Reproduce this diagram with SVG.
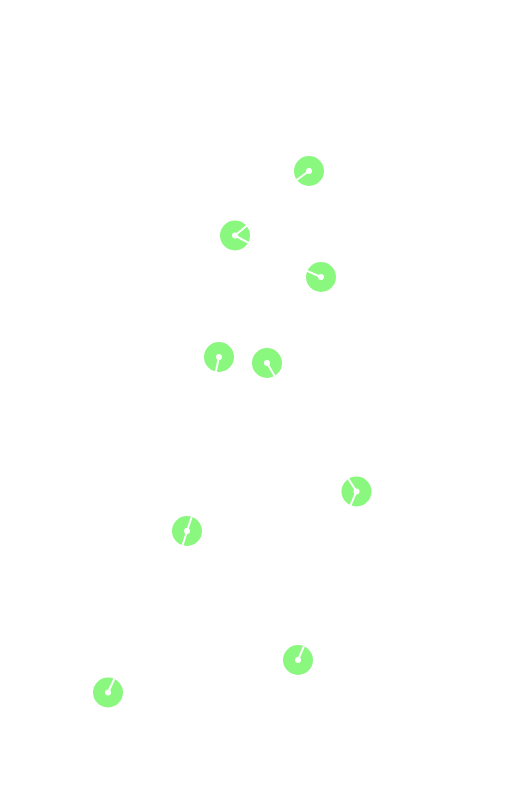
<svg xmlns="http://www.w3.org/2000/svg" width="510" height="792" viewBox="0 0 510 792">
<style>
.disc{fill:#8af77e}
.hub{fill:#ffffff}
.slit{stroke:#ffffff;stroke-width:2;stroke-linecap:butt}
</style>
<rect width="510" height="792" fill="#ffffff"/>
<g id="n1"><circle class="disc" cx="309" cy="171" r="15"/><line class="slit" x1="309" y1="171" x2="296" y2="180.5"/><circle class="hub" cx="309" cy="171" r="3"/></g>
<g id="n2"><circle class="disc" cx="235" cy="235.5" r="15"/><line class="slit" x1="235" y1="235.5" x2="247.3" y2="225.3"/><line class="slit" x1="235" y1="235.5" x2="249.1" y2="243.1"/><circle class="hub" cx="235" cy="235.5" r="3"/></g>
<g id="n3"><circle class="disc" cx="219" cy="357" r="15"/><line class="slit" x1="219" y1="357" x2="215.6" y2="372.6"/><circle class="hub" cx="219" cy="357" r="3"/></g>
<g id="n4"><circle class="disc" cx="267" cy="363" r="15"/><line class="slit" x1="267" y1="363" x2="275.1" y2="376.8"/><circle class="hub" cx="267" cy="363" r="3"/></g>
<g id="n5"><circle class="disc" cx="321" cy="277" r="15"/><line class="slit" x1="321" y1="277" x2="306.3" y2="270.7"/><circle class="hub" cx="321" cy="277" r="3"/></g>
<g id="n6"><circle class="disc" cx="356.5" cy="491.5" r="15"/><line class="slit" x1="356.5" y1="491.5" x2="347.9" y2="478"/><line class="slit" x1="356.5" y1="491.5" x2="350.2" y2="506.2"/><circle class="hub" cx="356.5" cy="491.5" r="3"/></g>
<g id="n7"><circle class="disc" cx="187" cy="531" r="15"/><line class="slit" x1="187" y1="531" x2="192.1" y2="515.8"/><line class="slit" x1="187" y1="531" x2="182.3" y2="546.3"/><circle class="hub" cx="187" cy="531" r="3"/></g>
<g id="n8"><circle class="disc" cx="298" cy="660" r="15"/><line class="slit" x1="298" y1="660" x2="304.3" y2="645.3"/><circle class="hub" cx="298" cy="660" r="3"/></g>
<g id="n9"><circle class="disc" cx="108" cy="692.5" r="15"/><line class="slit" x1="108" y1="692.5" x2="114.7" y2="678"/><circle class="hub" cx="108" cy="692.5" r="3"/></g>
</svg>
